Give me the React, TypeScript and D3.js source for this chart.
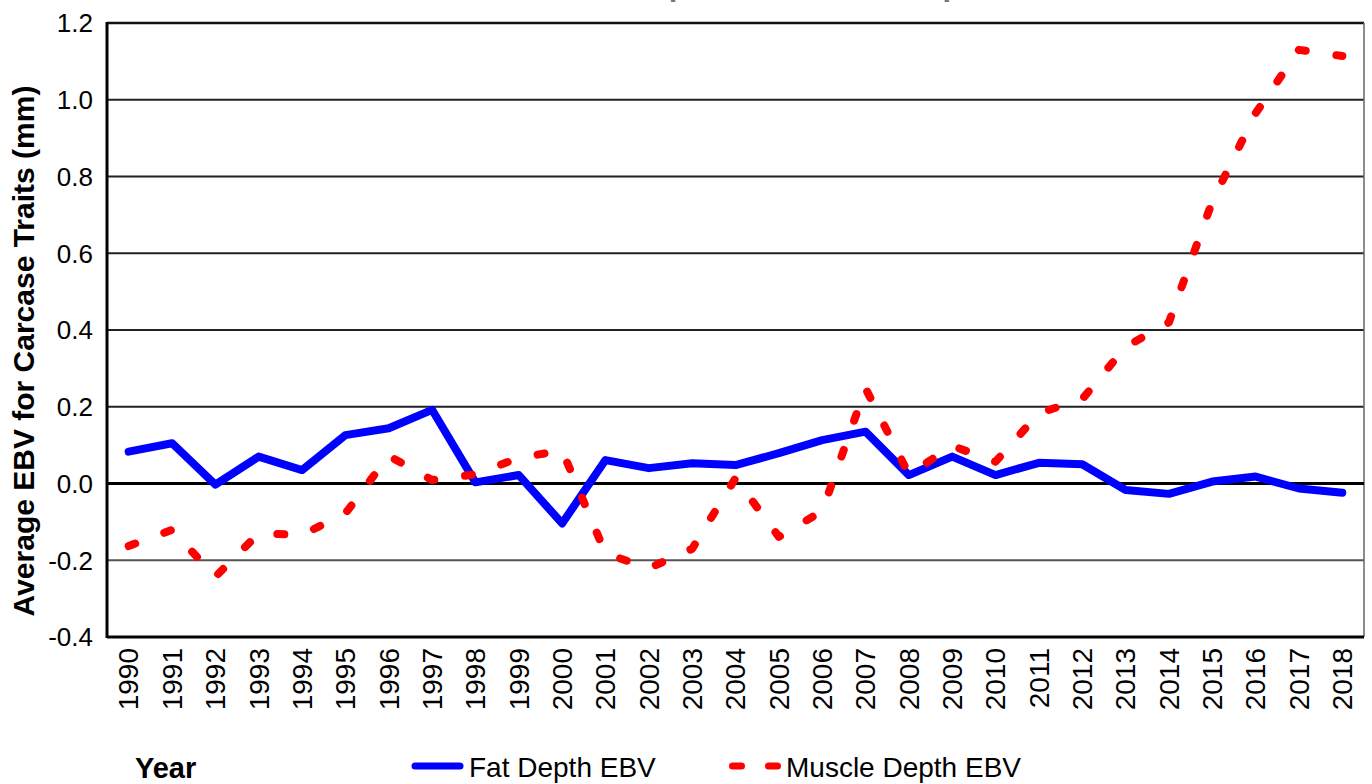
import React from 'react';
import * as d3 from 'd3';

const years = [
  '1990', '1991', '1992', '1993', '1994', '1995', '1996', '1997', '1998', '1999',
  '2000', '2001', '2002', '2003', '2004', '2005', '2006', '2007', '2008', '2009',
  '2010', '2011', '2012', '2013', '2014', '2015', '2016', '2017', '2018',
];

const fatDepth = [
  0.083, 0.105, -0.003, 0.07, 0.035, 0.126, 0.144, 0.192, 0.003, 0.022,
  -0.104, 0.061, 0.04, 0.053, 0.048, 0.079, 0.113, 0.135, 0.022, 0.07,
  0.022, 0.054, 0.05, -0.017, -0.027, 0.005, 0.018, -0.013, -0.024,
];

const muscleDepth = [
  -0.163, -0.121, -0.243, -0.13, -0.134, -0.078, 0.072, 0.009, 0.024, 0.067,
  0.086, -0.182, -0.221, -0.17, 0.014, -0.139, -0.072, 0.248, 0.024, 0.098,
  0.057, 0.183, 0.22, 0.356, 0.42, 0.735, 0.965, 1.13, 1.114,
];

const yTicks = [1.2, 1.0, 0.8, 0.6, 0.4, 0.2, 0.0, -0.2, -0.4];

const W = 1372;
const H = 784;
const margin = { left: 107, top: 23, right: 1364, bottom: 637 };
const font = "'Liberation Sans', Arial, Helvetica, sans-serif";

// plain hyphen for negatives, like the original
const fmt = (v: number) => d3.format('.1f')(v).replace('\u2212', '-');

export default function App() {
  const x = d3.scalePoint<string>()
    .domain(years)
    .range([margin.left, margin.right])
    .padding(0.5);

  const y = d3.scaleLinear()
    .domain([-0.4, 1.2])
    .range([margin.bottom, margin.top]);

  const line = d3.line<number>()
    .x((_, i) => x(years[i]) as number)
    .y(d => y(d));

  return (
    <svg width={W} height={H} style={{ position: 'absolute', left: 0, top: 0, background: '#fff' }}
      fontFamily={font}>
      {/* title, almost entirely above the visible area */}
      <text x={574} y={-5} fontSize={31} fontWeight="bold" fill="#777">Fat Depth and Muscle Depth</text>

      {/* grid lines */}
      {yTicks.filter(t => t !== 0 && t !== 1.2 && t !== -0.4).map(t => (
        <line key={t} x1={margin.left} x2={margin.right} y1={y(t)} y2={y(t)}
          stroke={t === -0.2 ? '#555' : '#222'} strokeWidth={2} />
      ))}
      <line x1={margin.left} x2={margin.right} y1={y(1.2)} y2={y(1.2)} stroke="#111" strokeWidth={2.5} />
      <line x1={margin.right} x2={margin.right} y1={margin.top} y2={margin.bottom} stroke="#666" strokeWidth={1.5} />
      <line x1={margin.left} x2={margin.right} y1={y(0)} y2={y(0)} stroke="#000" strokeWidth={3} />
      <line x1={margin.left} x2={margin.right} y1={margin.bottom} y2={margin.bottom} stroke="#000" strokeWidth={3} />
      <line x1={margin.left} x2={margin.left} y1={margin.top - 1} y2={margin.bottom + 1} stroke="#000" strokeWidth={3} />

      {/* y tick labels */}
      {yTicks.map(t => (
        <text key={t} x={93} y={y(t)} dy="0.36em" textAnchor="end" fontSize={26} fill="#000">
          {fmt(t)}
        </text>
      ))}

      {/* x tick labels */}
      {years.map(yr => (
        <text key={yr} transform={`translate(${x(yr)}, 648) rotate(-90)`} dy="0.35em"
          textAnchor="end" fontSize={28} fill="#000">{yr}</text>
      ))}

      {/* series */}
      <path d={line(fatDepth) as string} fill="none" stroke="#0000ff" strokeWidth={8}
        strokeLinejoin="round" strokeLinecap="round" />
      <path d={line(muscleDepth) as string} fill="none" stroke="#ff0000" strokeWidth={8}
        strokeLinejoin="round" strokeLinecap="round" strokeDasharray="7 31" />

      {/* axis titles */}
      <text transform="translate(34, 351) rotate(-90)" textAnchor="middle" fontSize={30}
        fontWeight="bold" fill="#000">Average EBV for Carcase Traits (mm)</text>
      <text x={135} y={778} fontSize={29} fontWeight="bold" fill="#000">Year</text>

      {/* legend */}
      <line x1={415} x2={460} y1={766} y2={766} stroke="#0000ff" strokeWidth={7} strokeLinecap="round" />
      <text x={469} y={777} fontSize={28} fill="#000">Fat Depth EBV</text>
      <line x1={732.5} x2={777.5} y1={766} y2={766} stroke="#ff0000" strokeWidth={7}
        strokeLinecap="round" strokeDasharray="9 27" />
      <text x={786} y={777} fontSize={28} fill="#000">Muscle Depth EBV</text>
    </svg>
  );
}
